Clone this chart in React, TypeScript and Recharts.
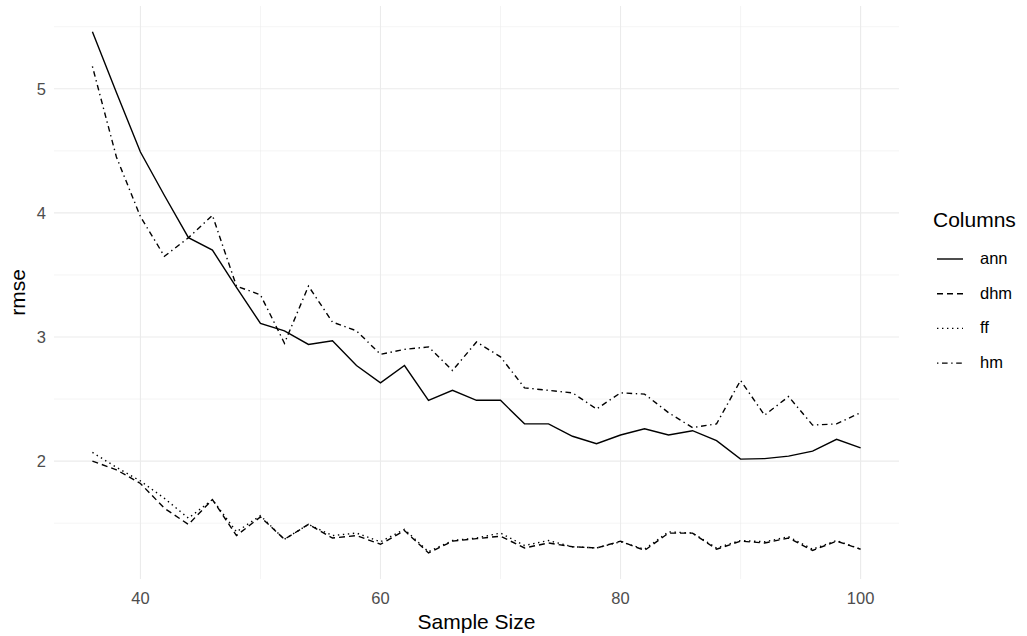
import React from 'react';
import { LineChart, Line, XAxis, YAxis, CartesianGrid, ReferenceLine, Label } from 'recharts';

const sampleSizes = [36, 38, 40, 42, 44, 46, 48, 50, 52, 54, 56, 58, 60, 62, 64, 66, 68, 70, 72, 74, 76, 78, 80, 82, 84, 86, 88, 90, 92, 94, 96, 98, 100];
const ann = [5.46, 4.97, 4.49, 4.14, 3.8, 3.7, 3.4, 3.11, 3.05, 2.94, 2.97, 2.77, 2.63, 2.77, 2.49, 2.57, 2.49, 2.49, 2.3, 2.3, 2.2, 2.14, 2.21, 2.26, 2.21, 2.245, 2.165, 2.016, 2.02, 2.04, 2.08, 2.175, 2.107];
const hm = [5.18, 4.45, 3.97, 3.65, 3.8, 3.98, 3.41, 3.34, 2.95, 3.41, 3.12, 3.05, 2.86, 2.9, 2.92, 2.73, 2.96, 2.84, 2.59, 2.57, 2.55, 2.42, 2.55, 2.54, 2.39, 2.27, 2.3, 2.65, 2.37, 2.52, 2.29, 2.3, 2.39];
const dhm = [2.0, 1.93, 1.82, 1.62, 1.49, 1.69, 1.4, 1.55, 1.37, 1.49, 1.38, 1.4, 1.33, 1.44, 1.26, 1.355, 1.375, 1.395, 1.3, 1.34, 1.31, 1.3, 1.355, 1.28, 1.42, 1.42, 1.29, 1.355, 1.34, 1.38, 1.28, 1.355, 1.29];
const ff = [2.07, 1.95, 1.84, 1.7, 1.54, 1.69, 1.43, 1.56, 1.37, 1.49, 1.4, 1.42, 1.35, 1.45, 1.27, 1.36, 1.38, 1.42, 1.32, 1.36, 1.31, 1.3, 1.35, 1.29, 1.43, 1.42, 1.3, 1.36, 1.35, 1.39, 1.29, 1.36, 1.29];

const seriesNames = ['ann', 'dhm', 'ff', 'hm'];
const xTicks = [40, 60, 80, 100];
const yTicks = [2, 3, 4, 5];
const xMinor = [50, 70, 90];
const yMinor = [1.5, 2.5, 3.5, 4.5, 5.5];

const data = sampleSizes.map((n, i) => ({ n, ann: ann[i], dhm: dhm[i], ff: ff[i], hm: hm[i] }));

const FONT = '"Liberation Sans", Arial, sans-serif';
const dashes: Record<string, string | undefined> = {
  ann: undefined,
  dhm: '6 4',
  ff: '1.4 3.6',
  hm: '1.4 3.6 5.6 3.6',
};

export default function App() {
  const legendTop = 259;
  const legendStep = 34.7;
  return (
    <div style={{ position: 'absolute', left: 0, top: 0, width: 1027, height: 636, background: '#fff', fontFamily: FONT }}>
      <LineChart width={1027} height={636} data={data} margin={{ top: 6, right: 128, bottom: 0, left: 0 }}>
        <CartesianGrid stroke="#EBEBEB" strokeWidth={1.1} syncWithTicks />
        {xMinor.map((v) => (
          <ReferenceLine key={'xm' + v} x={v} stroke="#EBEBEB" strokeWidth={0.55} />
        ))}
        {yMinor.map((v) => (
          <ReferenceLine key={'ym' + v} y={v} stroke="#EBEBEB" strokeWidth={0.55} />
        ))}
        <XAxis
          dataKey="n"
          type="number"
          domain={[32.8, 103.2]}
          ticks={xTicks}
          allowDataOverflow
          axisLine={false}
          tickLine={false}
          tickSize={0}
          tickMargin={13}
          height={57}
          tick={{ fill: '#4D4D4D', fontSize: 16.5, fontFamily: FONT }}
        >
          <Label
            value="Sample Size"
            position="insideBottom"
            offset={7}
            style={{ fill: '#000', fontSize: 21, fontFamily: FONT }}
          />
        </XAxis>
        <YAxis
          type="number"
          domain={[1.05, 5.667]}
          ticks={yTicks}
          allowDataOverflow
          axisLine={false}
          tickLine={false}
          tickSize={0}
          tickMargin={8}
          width={54}
          tick={{ fill: '#4D4D4D', fontSize: 16.5, fontFamily: FONT }}
        >
          <Label
            content={(props: any) => {
              const vb = props.viewBox || { x: 0, y: 0, height: 0 };
              const cy = vb.y + vb.height / 2;
              return (
                <text
                  x={25}
                  y={cy}
                  transform={`rotate(-90 25 ${cy})`}
                  textAnchor="middle"
                  style={{ fill: '#000', fontSize: 21, fontFamily: FONT }}
                >
                  rmse
                </text>
              );
            }}
          />
        </YAxis>
        {seriesNames.map((s) => (
          <Line
            key={s}
            type="linear"
            dataKey={s}
            stroke="#000"
            strokeWidth={1.4}
            strokeDasharray={dashes[s]}
            dot={false}
            activeDot={false}
            isAnimationActive={false}
          />
        ))}
      </LineChart>
      <svg width={1027} height={636} style={{ position: 'absolute', left: 0, top: 0, pointerEvents: 'none' }}>
        <text x={933} y={227} style={{ fill: '#000', fontSize: 21, fontFamily: FONT }}>
          Columns
        </text>
        {seriesNames.map((s, i) => {
          const cy = legendTop + i * legendStep;
          return (
            <g key={s}>
              <line x1={937} x2={963} y1={cy} y2={cy} stroke="#000" strokeWidth={1.4} strokeDasharray={dashes[s]} />
              <text x={980} y={cy + 5} style={{ fill: '#000', fontSize: 16.5, fontFamily: FONT }}>
                {s}
              </text>
            </g>
          );
        })}
      </svg>
    </div>
  );
}
